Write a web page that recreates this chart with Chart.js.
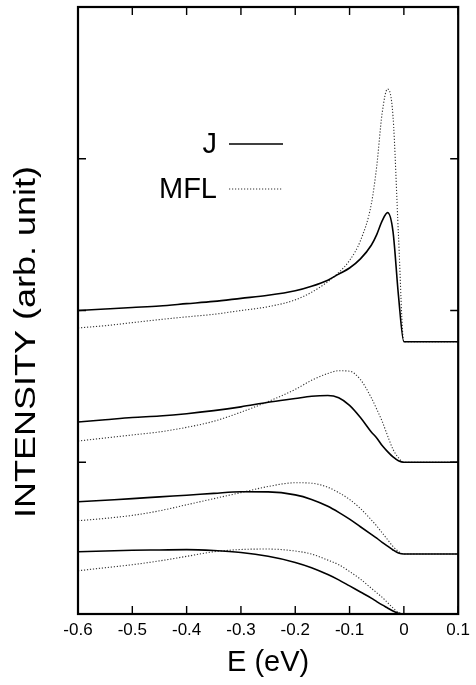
<!DOCTYPE html>
<html lang="en">
<head>
    <meta charset="UTF-8">
    <title>Intensity vs E</title>
    <script src="https://cdn.jsdelivr.net/npm/chart.js@4"></script>
    <style>
        body {
            margin: 0;
            background: #fff;
        }
        #wrap {
            width: 476px;
            height: 685px;
        }
    </style>
</head>
<body>
    <div id="wrap">
        <canvas id="myChart" width="476" height="685"></canvas>
    </div>

    <script>
        // energies (eV), shared by all curves
        const energy = [-0.6, -0.55, -0.5, -0.45, -0.4, -0.35, -0.3, -0.25, -0.2, -0.17, -0.14, -0.12,
                        -0.1, -0.08, -0.06, -0.05, -0.04, -0.03, -0.02, -0.01, 0, 0.05, 0.1];

        // J model, four spectra (top to bottom)
        const j1 = [2.0, 2.01, 2.02, 2.03, 2.045, 2.06, 2.08, 2.1, 2.13, 2.16, 2.2, 2.24,
                    2.28, 2.34, 2.43, 2.5, 2.59, 2.645, 2.52, 2.1, 1.794, 1.794, 1.794];
        const j2 = [1.265, 1.28, 1.295, 1.305, 1.32, 1.34, 1.365, 1.395, 1.42, 1.435, 1.44, 1.425,
                    1.375, 1.295, 1.2, 1.16, 1.11, 1.07, 1.035, 1.01, 1.0, 1.0, 1.0];
        const j3 = [0.74, 0.75, 0.76, 0.772, 0.783, 0.795, 0.806, 0.805, 0.785, 0.755, 0.71, 0.67,
                    0.625, 0.575, 0.525, 0.5, 0.472, 0.447, 0.422, 0.402, 0.395, 0.395, 0.395];
        const j4 = [0.41, 0.415, 0.42, 0.422, 0.424, 0.418, 0.405, 0.38, 0.34, 0.305, 0.26, 0.225,
                    0.185, 0.145, 0.105, 0.082, 0.06, 0.04, 0.02, 0.005, 0, 0, 0];

        // MFL model, four spectra (top to bottom)
        const mfl1 = [1.885, 1.9, 1.92, 1.94, 1.958, 1.975, 2.0, 2.025, 2.07, 2.12, 2.19, 2.25,
                      2.33, 2.46, 2.7, 2.95, 3.3, 3.46, 3.28, 2.5, 1.794, 1.794, 1.794];
        const mfl2 = [1.14, 1.16, 1.18, 1.2, 1.23, 1.27, 1.33, 1.4, 1.48, 1.54, 1.585, 1.603,
                      1.6, 1.545, 1.425, 1.35, 1.27, 1.175, 1.085, 1.03, 1.0, 1.0, 1.0];
        const mfl3 = [0.615, 0.63, 0.65, 0.68, 0.72, 0.76, 0.8, 0.84, 0.865, 0.862, 0.835, 0.8,
                      0.755, 0.695, 0.62, 0.58, 0.535, 0.49, 0.445, 0.412, 0.395, 0.395, 0.395];
        const mfl4 = [0.285, 0.305, 0.325, 0.35, 0.38, 0.41, 0.425, 0.428, 0.415, 0.395, 0.355, 0.325,
                      0.28, 0.23, 0.17, 0.14, 0.11, 0.075, 0.04, 0.01, 0, 0, 0];

        const xTicks = [-0.6, -0.5, -0.4, -0.3, -0.2, -0.1, 0, 0.1];
        const yTicks = [0, 1, 2, 3, 4];

        const FONT = '"Liberation Sans", Arial, Helvetica, sans-serif';

        function pts(vals) {
            return vals.map((v, i) => ({ x: energy[i], y: v }));
        }

        function solid(label, vals) {
            return {
                label: label,
                data: pts(vals),
                borderColor: '#000',
                borderWidth: 1.6,
                pointRadius: 0,
                cubicInterpolationMode: 'monotone',
                fill: false
            };
        }

        function dotted(label, vals) {
            return {
                label: label,
                data: pts(vals),
                borderColor: '#333',
                borderWidth: 1.1,
                borderDash: [1.2, 1.8],
                pointRadius: 0,
                cubicInterpolationMode: 'monotone',
                fill: false
            };
        }

        // frame, inward ticks on all sides, axis titles and the in-plot legend
        const decorPlugin = {
            id: 'decor',
            afterDraw(chart) {
                const ctx = chart.ctx;
                const a = chart.chartArea;
                const xs = chart.scales.x;
                const ys = chart.scales.y;
                const tl = 8;
                ctx.save();
                ctx.strokeStyle = '#000';
                ctx.lineWidth = 1.4;
                ctx.beginPath();
                xTicks.forEach(t => {
                    const px = xs.getPixelForValue(t);
                    ctx.moveTo(px, a.bottom);
                    ctx.lineTo(px, a.bottom - tl);
                    ctx.moveTo(px, a.top);
                    ctx.lineTo(px, a.top + tl);
                });
                yTicks.forEach(t => {
                    const py = ys.getPixelForValue(t);
                    ctx.moveTo(a.left, py);
                    ctx.lineTo(a.left + tl, py);
                    ctx.moveTo(a.right, py);
                    ctx.lineTo(a.right - tl, py);
                });
                ctx.stroke();

                ctx.lineWidth = 2.2;
                ctx.strokeRect(a.left, a.top, a.right - a.left, a.bottom - a.top);

                // axis titles
                ctx.fillStyle = '#000';
                ctx.font = '29px ' + FONT;
                ctx.textAlign = 'center';
                ctx.textBaseline = 'middle';
                ctx.fillText('E (eV)', (a.left + a.right) / 2, 663);

                // y title is drawn a bit wide, as in the original print
                ctx.save();
                ctx.translate(27, 342);
                ctx.rotate(-Math.PI / 2);
                ctx.scale(1.2, 1);
                ctx.font = '30px ' + FONT;
                ctx.fillText('INTENSITY (arb. unit)', 0, 0);
                ctx.restore();

                // legend
                const items = [chart.data.datasets[0], chart.data.datasets[4]];
                const rows = [144, 189];
                ctx.font = '29px ' + FONT;
                ctx.textAlign = 'right';
                items.forEach((ds, i) => {
                    const y = rows[i];
                    ctx.fillText(ds.label, 217, y + 1);
                    ctx.save();
                    ctx.strokeStyle = ds.borderColor;
                    ctx.lineWidth = ds.borderWidth;
                    ctx.setLineDash(ds.borderDash || []);
                    ctx.beginPath();
                    ctx.moveTo(229, y);
                    ctx.lineTo(283, y);
                    ctx.stroke();
                    ctx.restore();
                });
                ctx.restore();
            }
        };

        const ctx = document.getElementById('myChart').getContext('2d');
        const myChart = new Chart(ctx, {
            type: 'line',
            data: {
                datasets: [
                    solid('J', j1), solid('J', j2), solid('J', j3), solid('J', j4),
                    dotted('MFL', mfl1), dotted('MFL', mfl2), dotted('MFL', mfl3), dotted('MFL', mfl4)
                ]
            },
            options: {
                responsive: false,
                animation: false,
                layout: {
                    padding: { top: 7, right: 13, left: 0, bottom: 0 }
                },
                plugins: {
                    legend: { display: false },
                    tooltip: { enabled: false }
                },
                scales: {
                    x: {
                        type: 'linear',
                        min: -0.6,
                        max: 0.1,
                        border: { display: false },
                        grid: { display: false, drawTicks: false },
                        afterBuildTicks: s => { s.ticks = xTicks.map(v => ({ value: v })); },
                        afterFit: s => { s.height = 71; },
                        ticks: {
                            padding: 6,
                            color: '#000',
                            font: { family: FONT, size: 17 },
                            callback: v => String(Math.round(v * 10) / 10)
                        }
                    },
                    y: {
                        type: 'linear',
                        min: 0,
                        max: 4,
                        border: { display: false },
                        grid: { display: false, drawTicks: false },
                        afterBuildTicks: s => { s.ticks = yTicks.map(v => ({ value: v })); },
                        afterFit: s => { s.width = 78; },
                        ticks: { display: false }
                    }
                }
            },
            plugins: [decorPlugin]
        });
    </script>
</body>
</html>
